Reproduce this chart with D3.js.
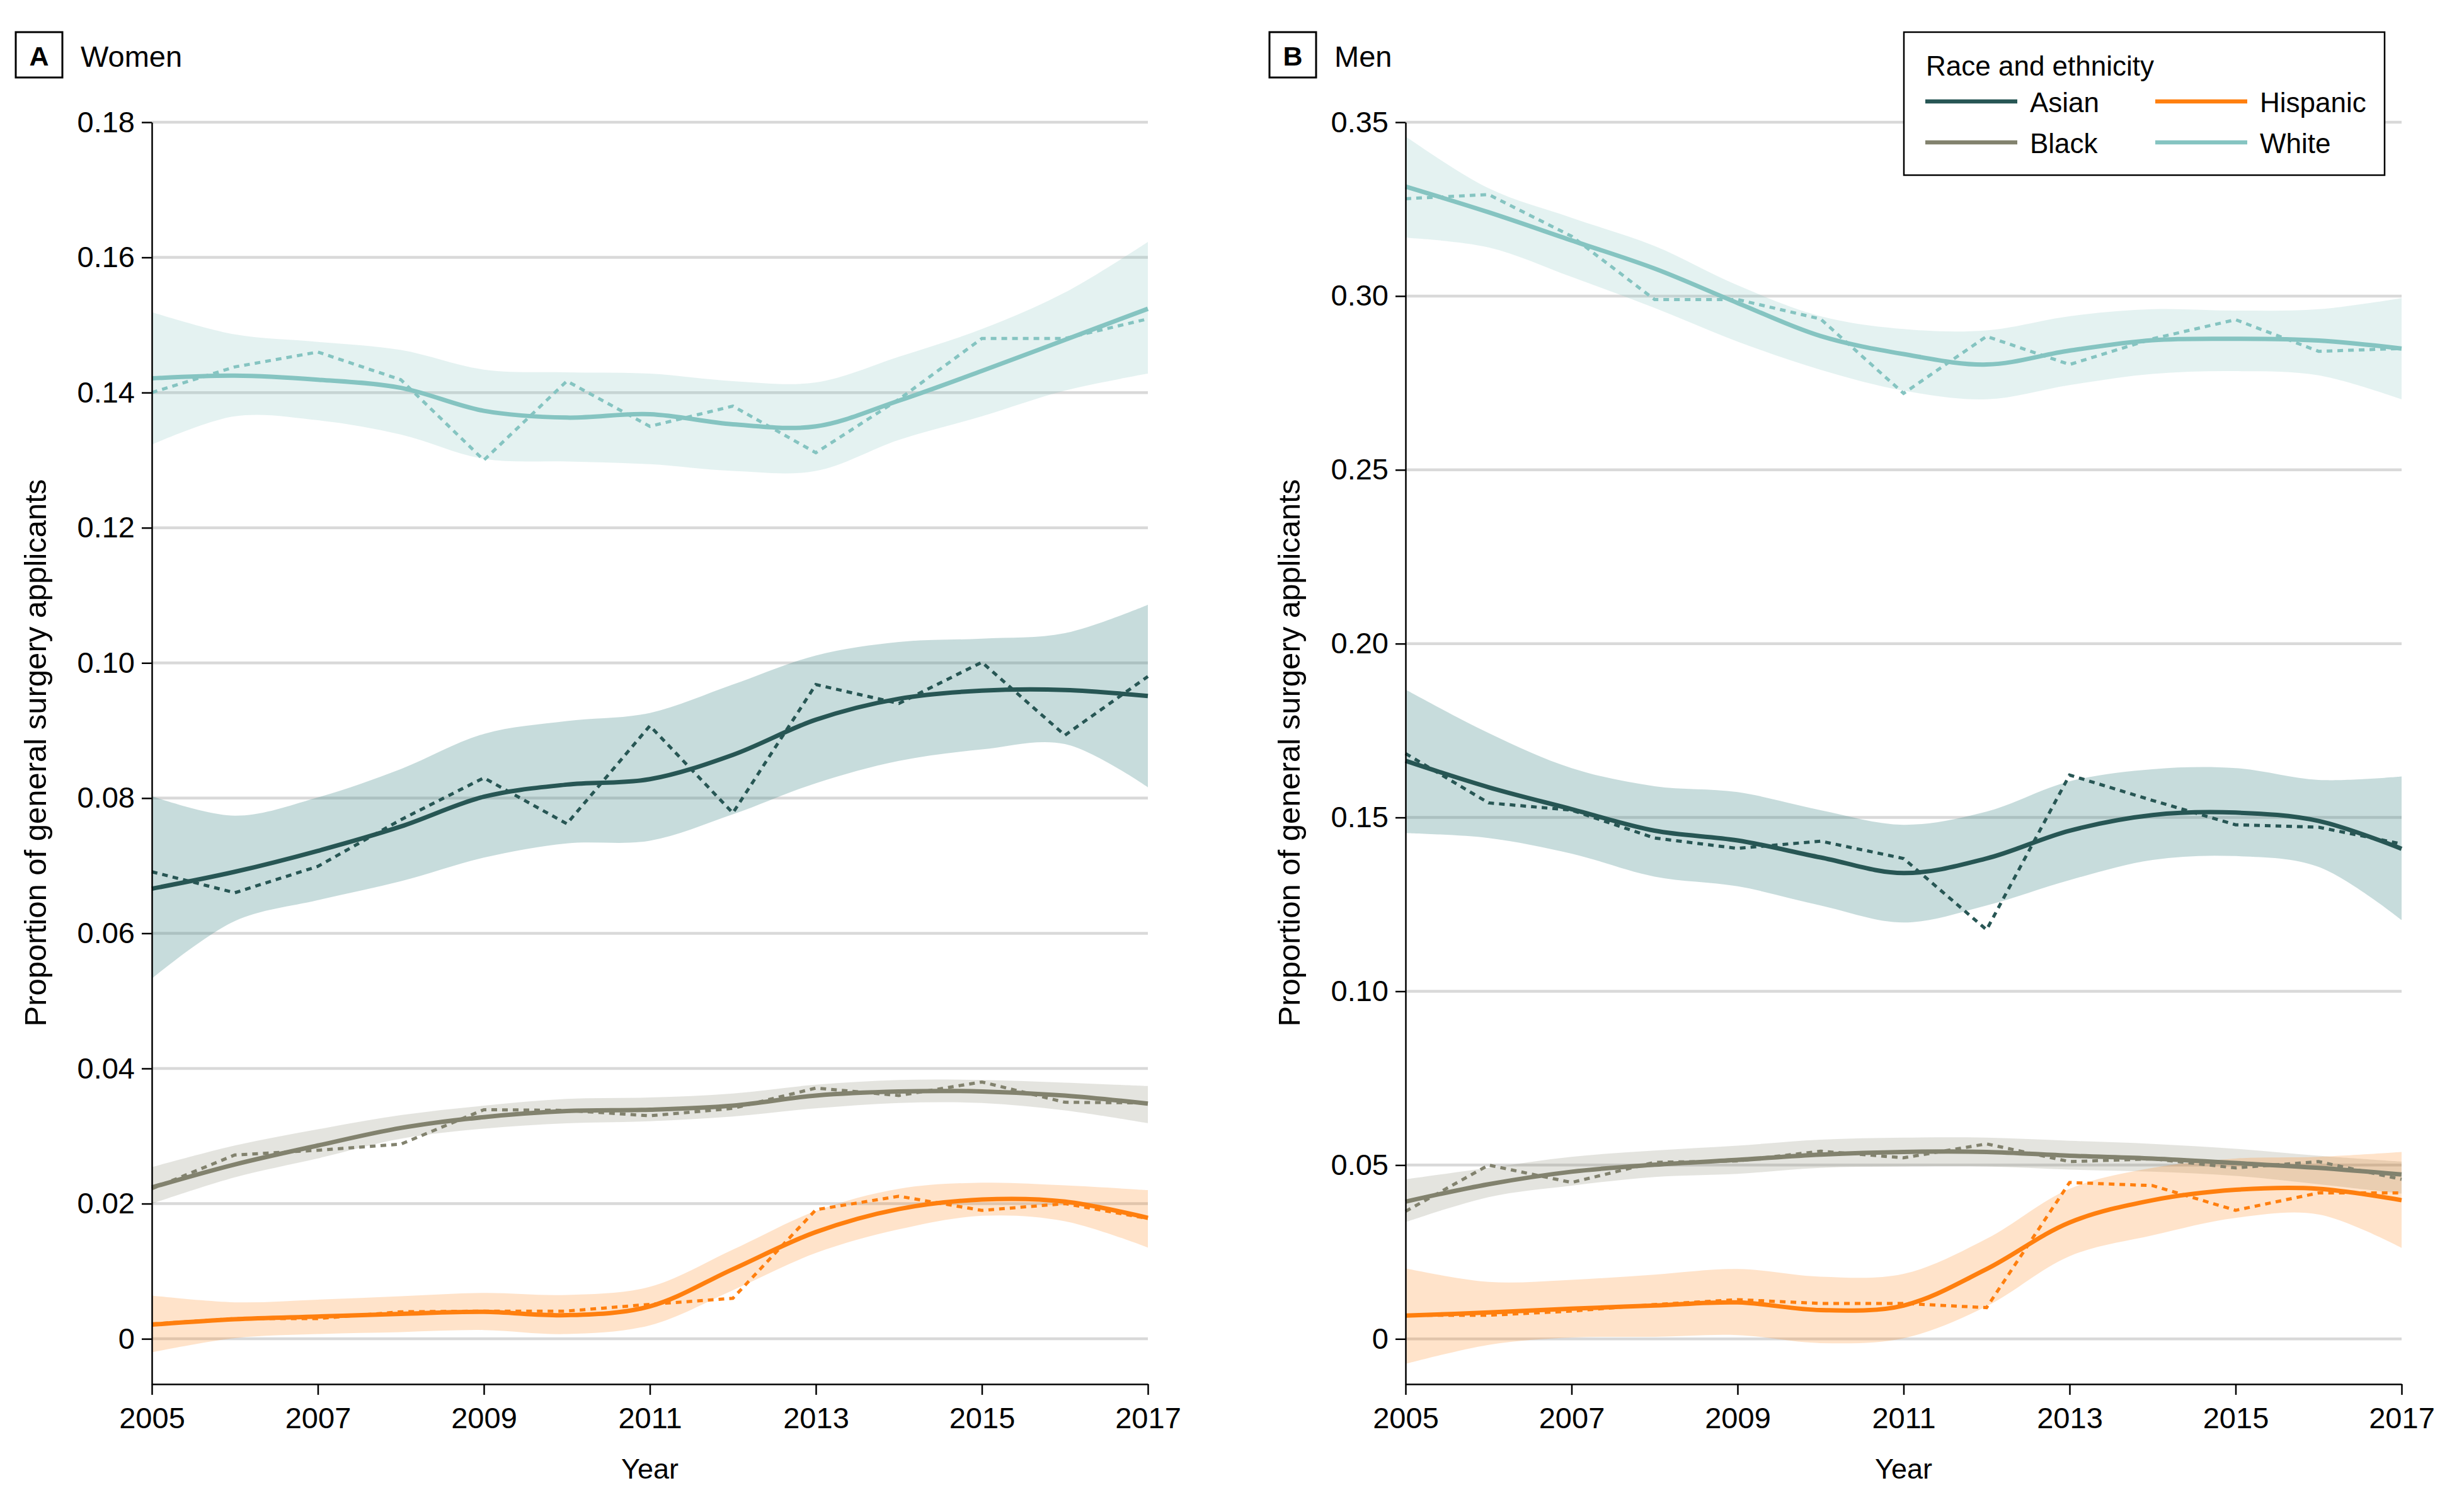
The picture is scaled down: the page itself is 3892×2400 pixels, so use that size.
<!DOCTYPE html>
<html><head><meta charset="utf-8">
<script src="https://cdn.jsdelivr.net/npm/d3@7"></script>
<style>html,body{margin:0;padding:0;background:#fff;}svg{display:block;font-family:"Liberation Sans",Arial,sans-serif;}</style>
</head><body>
<svg id="chart" width="3892" height="2400"></svg>
<script>
// ---------- DATA ----------
const years = [2005,2006,2007,2008,2009,2010,2011,2012,2013,2014,2015,2016,2017];
const xTickYears = [2005,2007,2009,2011,2013,2015,2017];
const groups = ["Asian","Black","Hispanic","White"];

// Women (panel A)
const wTicks = [0,0.02,0.04,0.06,0.08,0.10,0.12,0.14,0.16,0.18];
const wTickLabels = ["0","0.02","0.04","0.06","0.08","0.10","0.12","0.14","0.16","0.18"];
const wWhiteObs = [0.140,0.1438,0.146,0.1419,0.130,0.1417,0.135,0.138,0.1311,0.139,0.148,0.148,0.1509];
const wWhiteFit = [0.1421,0.1425,0.1419,0.1407,0.1373,0.1363,0.1368,0.1353,0.1350,0.1388,0.1432,0.1478,0.1524];
const wWhiteLo  = [0.1323,0.1365,0.1359,0.1338,0.1302,0.1298,0.1294,0.1284,0.1284,0.1330,0.1365,0.1403,0.1428];
const wWhiteHi  = [0.1519,0.1486,0.1475,0.1463,0.1434,0.1430,0.1428,0.1417,0.1415,0.1453,0.1494,0.1548,0.1623];
const wAsianObs = [0.0691,0.0660,0.0699,0.0768,0.0830,0.0762,0.0907,0.0778,0.0968,0.0940,0.1001,0.0893,0.0980];
const wAsianFit = [0.0666,0.0691,0.0722,0.0758,0.0802,0.0820,0.0828,0.0864,0.0916,0.0947,0.0959,0.0960,0.0951];
const wAsianLo  = [0.0533,0.0618,0.0649,0.0677,0.0712,0.0733,0.0737,0.0776,0.0822,0.0855,0.0872,0.0880,0.0816];
const wAsianHi  = [0.0803,0.0774,0.0801,0.0843,0.0895,0.0914,0.0926,0.0968,0.1011,0.1031,0.1036,0.1044,0.1086];
const wBlackObs = [0.0222,0.0272,0.0279,0.0288,0.0339,0.0338,0.0330,0.0341,0.0371,0.0360,0.0380,0.0350,0.0349];
const wBlackFit = [0.0224,0.0258,0.0286,0.0312,0.0328,0.0337,0.0339,0.0345,0.0360,0.0366,0.0366,0.0360,0.0348];
const wBlackLo  = [0.0200,0.0239,0.0267,0.0296,0.0311,0.0319,0.0322,0.0329,0.0341,0.0349,0.0349,0.0338,0.0319];
const wBlackHi  = [0.0254,0.0286,0.0310,0.0331,0.0345,0.0355,0.0357,0.0363,0.0376,0.0383,0.0383,0.0379,0.0374];
const wHispObs  = [0.0022,0.0030,0.0030,0.0040,0.0041,0.0041,0.0051,0.0060,0.0191,0.0211,0.0190,0.0200,0.0178];
const wHispFit  = [0.0021,0.0029,0.0033,0.0037,0.0040,0.0035,0.0048,0.0103,0.0158,0.0192,0.0206,0.0203,0.0179];
const wHispLo   = [-0.0020,0.0001,0.0007,0.0010,0.0013,0.0007,0.0020,0.0072,0.0127,0.0162,0.0182,0.0174,0.0135];
const wHispHi   = [0.0064,0.0054,0.0058,0.0063,0.0068,0.0065,0.0077,0.0132,0.0189,0.0222,0.0231,0.0227,0.0220];

// Men (panel B)
const mTicks = [0,0.05,0.10,0.15,0.20,0.25,0.30,0.35];
const mTickLabels = ["0","0.05","0.10","0.15","0.20","0.25","0.30","0.35"];
const mWhiteObs = [0.3280,0.3292,0.3172,0.2990,0.2990,0.2934,0.2720,0.2884,0.2803,0.2877,0.2932,0.2841,0.2849];
const mWhiteFit = [0.3315,0.3241,0.3160,0.3079,0.2980,0.2885,0.2833,0.2803,0.2843,0.2873,0.2877,0.2872,0.2849];
const mWhiteLo  = [0.3168,0.3140,0.3055,0.2966,0.2869,0.2788,0.2728,0.2703,0.2744,0.2776,0.2784,0.2772,0.2703];
const mWhiteHi  = [0.3459,0.3310,0.3225,0.3144,0.3031,0.2942,0.2905,0.2901,0.2942,0.2962,0.2958,0.2962,0.2994];
const mAsianObs = [0.1684,0.1542,0.1521,0.1441,0.1411,0.1432,0.1382,0.1177,0.1622,0.1549,0.1479,0.1472,0.1424];
const mAsianFit = [0.1663,0.1587,0.1524,0.1462,0.1434,0.1385,0.1340,0.1382,0.1462,0.1507,0.1514,0.1490,0.1410];
const mAsianLo  = [0.1455,0.1441,0.1396,0.1330,0.1302,0.1247,0.1198,0.1247,0.1320,0.1378,0.1389,0.1358,0.1205];
const mAsianHi  = [0.1868,0.1743,0.1642,0.1590,0.1573,0.1521,0.1479,0.1517,0.1604,0.1639,0.1642,0.1608,0.1618];
const mBlackObs = [0.0367,0.0500,0.0450,0.0508,0.0512,0.0540,0.0521,0.0561,0.0510,0.0518,0.0492,0.0510,0.0459];
const mBlackFit = [0.0395,0.0445,0.0481,0.0501,0.0515,0.0530,0.0538,0.0538,0.0527,0.0519,0.0506,0.0492,0.0473];
const mBlackLo  = [0.0336,0.0408,0.0441,0.0466,0.0475,0.0492,0.0496,0.0496,0.0487,0.0481,0.0469,0.0445,0.0418];
const mBlackHi  = [0.0459,0.0492,0.0524,0.0542,0.0556,0.0573,0.0579,0.0579,0.0570,0.0561,0.0547,0.0527,0.0510];
const mHispObs  = [0.0068,0.0068,0.0080,0.0099,0.0113,0.0102,0.0102,0.0090,0.0450,0.0441,0.0370,0.0420,0.0420];
const mHispFit  = [0.0067,0.0076,0.0087,0.0096,0.0105,0.0083,0.0096,0.0201,0.0335,0.0399,0.0429,0.0432,0.0399];
const mHispLo   = [-0.0072,-0.0017,0.0004,0.0006,0.0011,-0.0012,0.0002,0.0094,0.0238,0.0298,0.0348,0.0358,0.0262];
const mHispHi   = [0.0203,0.0164,0.0170,0.0185,0.0201,0.0179,0.0187,0.0288,0.0432,0.0492,0.0519,0.0524,0.0538];

// ---------- STYLE ----------
const lineColor = {Asian:"#275654", Black:"#82826e", Hispanic:"#ff7f0e", White:"#85c4c1"};
const bandColor = {Asian:"#3f8585", Black:"#82826e", Hispanic:"#ff7f0e", White:"#85c4c1"};
const bandOpacity = {Asian:0.29, Black:0.22, Hispanic:0.22, White:0.22};

const panels = [
  {label:"A", title:"Women", x0:241, x1:1822, yDomain:[-0.0067,0.18], ticks:wTicks, tickLabels:wTickLabels,
   series:{White:[wWhiteObs,wWhiteFit,wWhiteLo,wWhiteHi], Asian:[wAsianObs,wAsianFit,wAsianLo,wAsianHi],
           Black:[wBlackObs,wBlackFit,wBlackLo,wBlackHi], Hispanic:[wHispObs,wHispFit,wHispLo,wHispHi]}},
  {label:"B", title:"Men", x0:2231, x1:3812, yDomain:[-0.0130,0.35], ticks:mTicks, tickLabels:mTickLabels,
   series:{White:[mWhiteObs,mWhiteFit,mWhiteLo,mWhiteHi], Asian:[mAsianObs,mAsianFit,mAsianLo,mAsianHi],
           Black:[mBlackObs,mBlackFit,mBlackLo,mBlackHi], Hispanic:[mHispObs,mHispFit,mHispLo,mHispHi]}}
];
const yTop = 194, yBottom = 2197;
const drawOrder = ["White","Asian","Black","Hispanic"];

const svg = d3.select("#chart");
svg.append("rect").attr("width",3892).attr("height",2400).attr("fill","#fff");

panels.forEach(p => {
  const x = d3.scaleLinear().domain([2005,2017]).range([p.x0,p.x1]);
  const y = d3.scaleLinear().domain(p.yDomain).range([yBottom,yTop]);
  const g = svg.append("g");

  // gridlines
  g.append("g").selectAll("line").data(p.ticks).join("line")
    .attr("x1",p.x0).attr("x2",p.x1).attr("y1",d=>y(d)).attr("y2",d=>y(d))
    .attr("stroke","#d9d9d9").attr("stroke-width",4.5);

  const curve = d3.curveCatmullRom.alpha(0.5);
  // bands
  drawOrder.forEach(k => {
    const [obs,fit,lo,hi] = p.series[k];
    const area = d3.area().x((d,i)=>x(years[i])).y0((d,i)=>y(lo[i])).y1((d,i)=>y(hi[i])).curve(curve);
    g.append("path").attr("d",area(years)).attr("fill",bandColor[k]).attr("fill-opacity",bandOpacity[k]);
  });
  // observed dashed
  drawOrder.forEach(k => {
    const obs = p.series[k][0];
    const line = d3.line().x((d,i)=>x(years[i])).y(d=>y(d));
    g.append("path").attr("d",line(obs)).attr("fill","none").attr("stroke",lineColor[k])
      .attr("stroke-width",5).attr("stroke-dasharray","9,8");
  });
  // fitted solid
  drawOrder.forEach(k => {
    const fit = p.series[k][1];
    const line = d3.line().x((d,i)=>x(years[i])).y(d=>y(d)).curve(curve);
    g.append("path").attr("d",line(fit)).attr("fill","none").attr("stroke",lineColor[k])
      .attr("stroke-width",7).attr("stroke-linecap","butt");
  });

  // axes
  const yAxis = d3.axisLeft(y).tickValues(p.ticks).tickSize(16).tickSizeOuter(0)
    .tickFormat((d,i)=>p.tickLabels[i]).tickPadding(11);
  const ya = g.append("g").attr("transform",`translate(${p.x0},0)`).call(yAxis);
  ya.select(".domain").attr("stroke","#000").attr("stroke-width",2.5);
  ya.selectAll(".tick line").attr("stroke","#000").attr("stroke-width",2.5);
  ya.selectAll(".tick text").attr("font-size",47).attr("fill","#000").attr("font-family","Liberation Sans, Arial, sans-serif");

  const xAxis = d3.axisBottom(x).tickValues(xTickYears).tickSize(17).tickSizeOuter(0)
    .tickFormat(d3.format("d")).tickPadding(20);
  const xa = g.append("g").attr("transform",`translate(0,${yBottom})`).call(xAxis);
  xa.select(".domain").attr("stroke","#000").attr("stroke-width",2.5);
  xa.selectAll(".tick line").attr("stroke","#000").attr("stroke-width",2.5);
  xa.selectAll(".tick text").attr("font-size",47).attr("fill","#000").attr("font-family","Liberation Sans, Arial, sans-serif");

  // axis titles
  g.append("text").attr("x",(p.x0+p.x1)/2).attr("y",2347).attr("text-anchor","middle")
    .attr("font-size",45).text("Year");
  const ylx = p.x0 - 168;
  g.append("text").attr("transform",`translate(${ylx},1195) rotate(-90)`).attr("text-anchor","middle")
    .attr("font-size",49).text("Proportion of general surgery applicants");

  // panel label
  const bx = p.x0 - 216;
  g.append("rect").attr("x",bx).attr("y",51).attr("width",74).attr("height",72)
    .attr("fill","#fff").attr("stroke","#000").attr("stroke-width",3);
  g.append("text").attr("x",bx+37).attr("y",104).attr("text-anchor","middle")
    .attr("font-size",43).attr("font-weight","bold").text(p.label);
  g.append("text").attr("x",bx+103).attr("y",106).attr("font-size",47).text(p.title);
});

// legend
const lg = svg.append("g");
lg.append("rect").attr("x",3022).attr("y",51).attr("width",763).attr("height",227)
  .attr("fill","#fff").attr("stroke","#000").attr("stroke-width",2.5);
lg.append("text").attr("x",3057).attr("y",120).attr("font-size",44).text("Race and ethnicity");
const legendPos = [
  {k:"Asian", x:3056, y:161},
  {k:"Hispanic", x:3421, y:161},
  {k:"Black", x:3056, y:226},
  {k:"White", x:3421, y:226}
];
legendPos.forEach(d => {
  lg.append("line").attr("x1",d.x).attr("x2",d.x+146).attr("y1",d.y).attr("y2",d.y)
    .attr("stroke",lineColor[d.k]).attr("stroke-width",6.5);
  lg.append("text").attr("x",d.x+166).attr("y",d.y+17).attr("font-size",44).text(d.k);
});
</script>
</body></html>
